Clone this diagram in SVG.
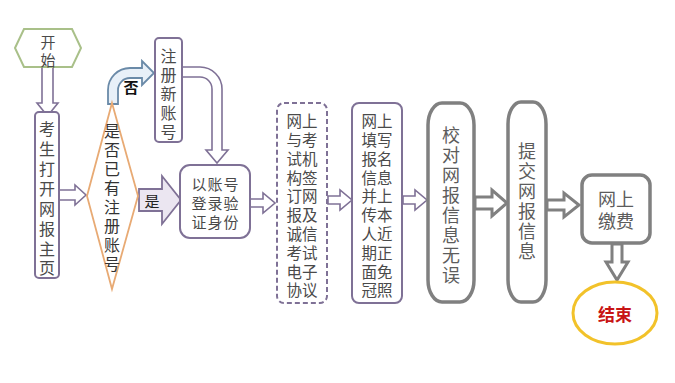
<svg xmlns="http://www.w3.org/2000/svg" width="675" height="383" viewBox="0 0 675 383">
<style>
text{font-family:"Noto Sans CJK SC","Noto Sans",sans-serif;dominant-baseline:central;text-anchor:middle;}
.t{font-size:16px;fill:#4a4a4a;}
.d{font-size:15.5px;fill:#4a4a4a;}
.g{font-size:18px;fill:#5c5c5c;}
.pb{fill:#fff;stroke:#7f7196;stroke-width:2;}
.pa{fill:#fff;stroke:#7f7196;stroke-width:1.6;stroke-linejoin:miter;}
.gb{fill:#fff;stroke:#808080;stroke-width:3.5;}
.ga{fill:#fff;stroke:#808080;stroke-width:3;stroke-linejoin:miter;}
</style>
<rect width="675" height="383" fill="#fff"/>
<g id="connectors">
<path class="pa" d="M42,67 V103 H37 L47.5,116 L58,103 H53 V67 Z"/>
<path class="pa" d="M59,190 H75 V185 L86,195 L75,205 V200 H59 Z"/>
<path d="M108,104 V90 A22,22 0 0 1 130,68 H142 V61 L154,73 L142,85 V78 H130 A12,12 0 0 0 118,90 V104 Z" fill="#e8f0f8" stroke="#6a8aa8" stroke-width="1.8"/>
<text x="131" y="86" style="font-size:15px;font-weight:bold;fill:#111;">否</text>
<path class="pa" d="M182,67 H200 A22,22 0 0 1 222,89 V150 H228 L217,163 L206,150 H212 V89 A12,12 0 0 0 200,77 H182 Z"/>
<path d="M139,189 H162 V176 L181,200 L162,224 V211 H139 Z" fill="#ebe6f1" stroke="#7f7196" stroke-width="1.8"/>
<text x="152" y="200" style="font-size:15px;fill:#222;">是</text>
<path class="pa" d="M250,199 H263 V193 L275,203 L263,213 V207 H250 Z"/>
<path class="pa" d="M328,196 H340 V190 L352,200 L340,210 V204 H328 Z"/>
<path class="pa" d="M403,196 H415 V190 L427,200 L415,210 V204 H403 Z"/>
<path class="ga" d="M475,197 H492 V190 L507,203 L492,216 V209 H475 Z"/>
<path class="ga" d="M547,200 H564 V193 L579,205 L564,217 V210 H547 Z"/>
<path class="ga" d="M612,244 V262 H606 L617,280 L628,262 H622 V244 Z"/>
</g>
<g id="start">
<polygon points="15,48 24,29 72,29 81,48 72,67 24,67" fill="#fff" stroke="#a9c089" stroke-width="2"/>
<text class="t" x="48" y="41" style="font-size:15px">开</text>
<text class="t" x="48" y="59" style="font-size:15px">始</text>
</g>
<g id="open-page">
<rect class="pb" x="35" y="112" width="24" height="166" rx="4"/>
<text class="t"><tspan x="47" y="128">考</tspan><tspan x="47" y="148">生</tspan><tspan x="47" y="168">打</tspan><tspan x="47" y="188">开</tspan><tspan x="47" y="208">网</tspan><tspan x="47" y="228">报</tspan><tspan x="47" y="248">主</tspan><tspan x="47" y="267">页</tspan></text>
</g>
<g id="decision">
<polygon points="112,103 138,196 112,289 87,196" fill="#fff" stroke="#e8aa74" stroke-width="1.8"/>
<text class="t" style="fill:#333"><tspan x="112" y="130">是</tspan><tspan x="112" y="149">否</tspan><tspan x="112" y="168">已</tspan><tspan x="112" y="187">有</tspan><tspan x="112" y="206">注</tspan><tspan x="112" y="225">册</tspan><tspan x="112" y="244">账</tspan><tspan x="112" y="263">号</tspan></text>
</g>
<g id="register">
<rect class="pb" x="155" y="38" width="27" height="104" rx="4"/>
<text class="t"><tspan x="168.5" y="55">注</tspan><tspan x="168.5" y="74">册</tspan><tspan x="168.5" y="93">新</tspan><tspan x="168.5" y="112">账</tspan><tspan x="168.5" y="131">号</tspan></text>
</g>
<g id="login">
<rect class="pb" x="180" y="165" width="70" height="73" rx="10"/>
<text class="t" style="font-size:15px;letter-spacing:1px"><tspan x="215.5" y="183">以账号</tspan><tspan x="215.5" y="202">登录验</tspan><tspan x="215.5" y="221">证身份</tspan></text>
</g>
<g id="agreement">
<rect x="277" y="103" width="50" height="200" rx="7" fill="#fff" stroke="#7f7196" stroke-width="2" stroke-dasharray="5,3"/>
<text class="d"><tspan x="302" y="120">网上</tspan><tspan x="302" y="139">与考</tspan><tspan x="302" y="158">试机</tspan><tspan x="302" y="177">构签</tspan><tspan x="302" y="195">订网</tspan><tspan x="302" y="214">报及</tspan><tspan x="302" y="233">诚信</tspan><tspan x="302" y="252">考试</tspan><tspan x="302" y="271">电子</tspan><tspan x="302" y="289">协议</tspan></text>
</g>
<g id="fill-info">
<rect class="pb" x="352" y="103" width="50" height="200" rx="7"/>
<text class="d"><tspan x="377" y="120">网上</tspan><tspan x="377" y="139">填写</tspan><tspan x="377" y="158">报名</tspan><tspan x="377" y="177">信息</tspan><tspan x="377" y="195">并上</tspan><tspan x="377" y="214">传本</tspan><tspan x="377" y="233">人近</tspan><tspan x="377" y="252">期正</tspan><tspan x="377" y="271">面免</tspan><tspan x="377" y="289">冠照</tspan></text>
</g>
<g id="check">
<rect class="gb" x="428" y="103" width="46" height="199" rx="14" ry="22"/>
<text class="g"><tspan x="451" y="134">校</tspan><tspan x="451" y="154">对</tspan><tspan x="451" y="174">网</tspan><tspan x="451" y="194">报</tspan><tspan x="451" y="214">信</tspan><tspan x="451" y="234">息</tspan><tspan x="451" y="254">无</tspan><tspan x="451" y="274">误</tspan></text>
</g>
<g id="submit">
<rect class="gb" x="508" y="102" width="38" height="200" rx="13" ry="22"/>
<text class="g"><tspan x="527" y="150">提</tspan><tspan x="527" y="170">交</tspan><tspan x="527" y="190">网</tspan><tspan x="527" y="210">报</tspan><tspan x="527" y="230">信</tspan><tspan x="527" y="250">息</tspan></text>
</g>
<g id="pay">
<rect class="gb" x="582" y="175" width="68" height="68" rx="10"/>
<text class="g"><tspan x="616" y="198">网上</tspan><tspan x="616" y="220">缴费</tspan></text>
</g>
<g id="end">
<ellipse cx="615" cy="313" rx="42" ry="31" fill="#fff" stroke="#f2c22a" stroke-width="3"/>
<text x="615" y="313" style="font-size:17px;font-weight:bold;fill:#c81414;">结束</text>
</g>
</svg>
